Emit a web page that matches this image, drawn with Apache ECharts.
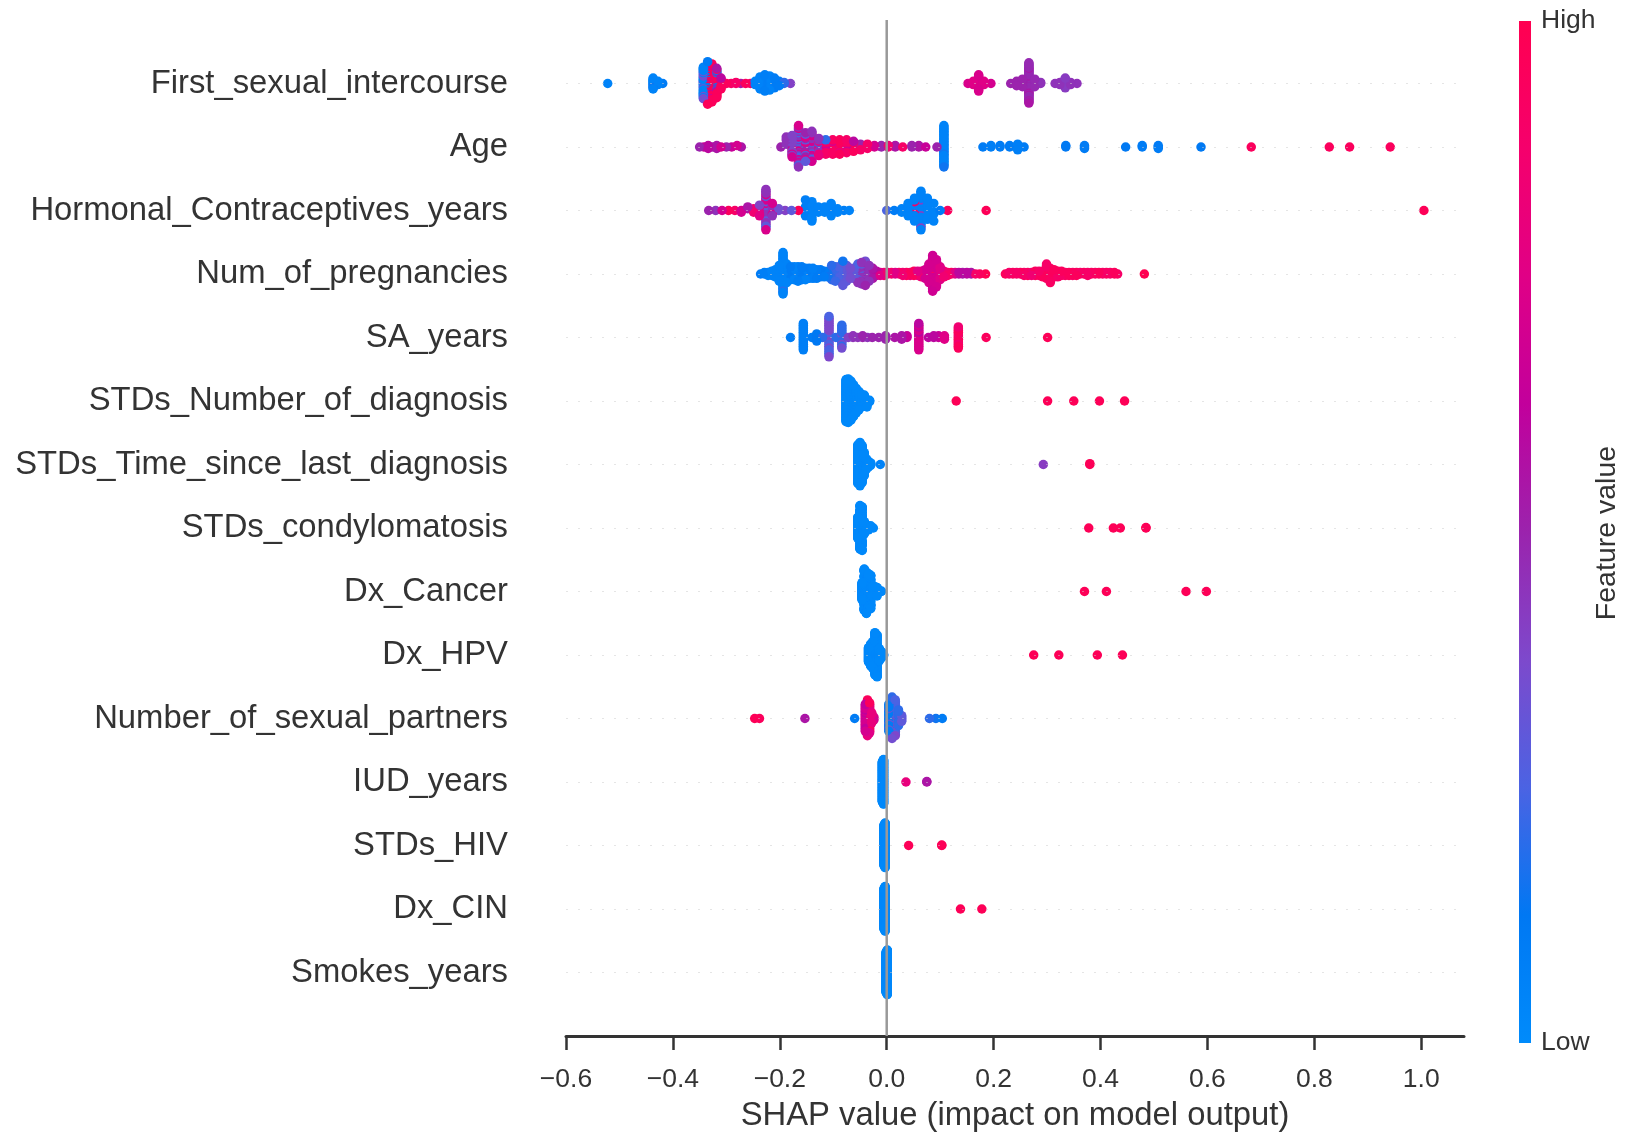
<!DOCTYPE html>
<html>
<head>
<meta charset="utf-8">
<title>SHAP summary plot</title>
<script src="https://cdn.jsdelivr.net/npm/echarts@6/dist/echarts.min.js"></script>
<style>
  html, body { margin: 0; padding: 0; background: #ffffff; }
  #chart { width: 1625px; height: 1137px; }
</style>
</head>
<body>
<div id="chart"></div>
<script>
// Feature names, most important first (top row of the plot).
const featureNames = [
  'First_sexual_intercourse', 'Age', 'Hormonal_Contraceptives_years', 'Num_of_pregnancies',
  'SA_years', 'STDs_Number_of_diagnosis', 'STDs_Time_since_last_diagnosis', 'STDs_condylomatosis',
  'Dx_Cancer', 'Dx_HPV', 'Number_of_sexual_partners', 'IUD_years', 'STDs_HIV', 'Dx_CIN', 'Smokes_years'
];

// SHAP value ticks on the horizontal axis.
const xTicks = [-0.6, -0.4, -0.2, 0.0, 0.2, 0.4, 0.6, 0.8, 1.0];

// Each entry: [SHAP value, number of samples, normalised feature value (0 = low, 1 = high)]
const firstSexualIntercourse = [
  [-0.522, 1, 0.05],
  [-0.437, 9, 0.05], [-0.437, 2, 0.15], [-0.428, 4, 0.05], [-0.419, 1, 0.1],
  [-0.343, 20, 0.05], [-0.343, 10, 0.35],
  [-0.335, 10, 0.1], [-0.335, 24, 0.97], [-0.335, 6, 0.5],
  [-0.327, 30, 0.95], [-0.327, 6, 0.7],
  [-0.318, 16, 0.95], [-0.318, 6, 0.55], [-0.318, 6, 0.1],
  [-0.310, 8, 0.95], [-0.310, 3, 0.6],
  [-0.300, 1, 0.95], [-0.291, 1, 0.9], [-0.282, 2, 0.9], [-0.273, 1, 0.55],
  [-0.264, 1, 0.95], [-0.255, 1, 0.9],
  [-0.246, 4, 0.05], [-0.237, 12, 0.05], [-0.228, 16, 0.08], [-0.219, 14, 0.05], [-0.210, 10, 0.1],
  [-0.201, 5, 0.1], [-0.192, 2, 0.2], [-0.180, 1, 0.4],
  [0.152, 1, 0.72], [0.162, 4, 0.75], [0.172, 16, 0.72], [0.182, 4, 0.75], [0.195, 1, 0.7],
  [0.232, 1, 0.5], [0.243, 5, 0.5], [0.254, 8, 0.5], [0.266, 30, 0.48], [0.266, 8, 0.55],
  [0.277, 8, 0.48], [0.288, 2, 0.45],
  [0.315, 1, 0.45], [0.324, 3, 0.45], [0.334, 10, 0.42], [0.344, 3, 0.45], [0.356, 1, 0.45]
];

const age = [
  [-0.350, 1, 0.5], [-0.342, 1, 0.65], [-0.334, 2, 0.6], [-0.326, 1, 0.5], [-0.318, 2, 0.55],
  [-0.310, 1, 0.7], [-0.300, 1, 0.5], [-0.290, 1, 0.65], [-0.280, 1, 0.7], [-0.272, 1, 0.55],
  [-0.198, 1, 0.5], [-0.188, 3, 0.45], [-0.177, 10, 0.4], [-0.177, 3, 0.7],
  [-0.165, 10, 0.25], [-0.165, 12, 0.45], [-0.165, 8, 0.72],
  [-0.152, 8, 0.5], [-0.152, 8, 0.75], [-0.152, 5, 0.3],
  [-0.140, 10, 0.7], [-0.140, 8, 0.45], [-0.140, 4, 0.25],
  [-0.127, 6, 0.45], [-0.127, 5, 0.8], [-0.127, 2, 0.2],
  [-0.114, 6, 0.9], [-0.114, 4, 0.7], [-0.114, 1, 0.2],
  [-0.101, 8, 0.92], [-0.101, 3, 0.7],
  [-0.088, 8, 0.95], [-0.088, 3, 0.8],
  [-0.075, 7, 0.9], [-0.075, 3, 0.7],
  [-0.062, 6, 0.95], [-0.062, 2, 0.6],
  [-0.049, 3, 0.9], [-0.049, 2, 0.5],
  [-0.036, 3, 0.9], [-0.036, 1, 0.7],
  [-0.023, 2, 0.7], [-0.010, 2, 0.5], [0.003, 2, 0.85], [0.016, 2, 0.55], [0.030, 1, 0.9],
  [0.047, 2, 0.5], [0.060, 2, 0.55], [0.073, 1, 0.65], [0.094, 1, 0.5],
  [0.107, 28, 0.05], [0.107, 2, 0.15],
  [0.180, 1, 0.1], [0.195, 2, 0.08], [0.212, 2, 0.1], [0.230, 2, 0.1], [0.245, 5, 0.08], [0.257, 1, 0.1],
  [0.335, 2, 0.12], [0.370, 3, 0.1],
  [0.447, 1, 0.12], [0.478, 2, 0.1], [0.508, 3, 0.1],
  [0.588, 1, 0.12],
  [0.682, 1, 0.95], [0.828, 1, 0.95], [0.866, 1, 0.95], [0.942, 1, 0.95]
];

const hormonalContraceptivesYears = [
  [-0.333, 1, 0.5], [-0.320, 1, 0.45], [-0.308, 1, 0.7], [-0.296, 1, 0.95], [-0.284, 1, 0.9],
  [-0.272, 2, 0.7], [-0.260, 2, 0.55], [-0.249, 3, 0.85],
  [-0.238, 5, 0.75], [-0.238, 2, 0.4],
  [-0.226, 10, 0.45], [-0.226, 8, 0.3], [-0.226, 6, 0.72],
  [-0.214, 6, 0.45], [-0.214, 2, 0.7],
  [-0.202, 2, 0.35], [-0.190, 1, 0.4], [-0.178, 1, 0.3], [-0.165, 1, 0.97],
  [-0.152, 3, 0.08], [-0.140, 10, 0.05], [-0.128, 4, 0.05], [-0.116, 4, 0.05], [-0.104, 8, 0.05],
  [-0.092, 3, 0.05], [-0.080, 1, 0.08], [-0.070, 1, 0.05],
  [0.000, 1, 0.25], [0.014, 1, 0.1], [0.028, 3, 0.05], [0.040, 8, 0.05],
  [0.052, 12, 0.05], [0.052, 2, 0.9], [0.064, 20, 0.05], [0.064, 3, 0.4],
  [0.076, 10, 0.05], [0.088, 4, 0.05], [0.100, 1, 0.1], [0.114, 1, 0.95],
  [0.186, 1, 0.97], [1.005, 1, 0.97]
];

const numOfPregnancies = [
  [-0.236, 1, 0.1], [-0.229, 2, 0.08], [-0.222, 3, 0.05], [-0.215, 4, 0.05], [-0.208, 6, 0.05],
  [-0.201, 12, 0.05], [-0.194, 28, 0.05], [-0.194, 2, 0.2], [-0.187, 14, 0.05], [-0.180, 10, 0.1],
  [-0.173, 10, 0.05], [-0.166, 11, 0.08], [-0.159, 10, 0.1], [-0.152, 9, 0.05], [-0.145, 8, 0.1],
  [-0.138, 8, 0.08], [-0.131, 7, 0.1], [-0.124, 6, 0.12], [-0.117, 5, 0.1], [-0.110, 5, 0.15],
  [-0.103, 5, 0.2], [-0.096, 7, 0.22], [-0.089, 10, 0.25], [-0.082, 12, 0.3], [-0.082, 6, 0.15],
  [-0.075, 12, 0.3], [-0.068, 8, 0.35], [-0.061, 8, 0.3], [-0.054, 10, 0.45], [-0.054, 4, 0.25],
  [-0.047, 12, 0.45], [-0.047, 4, 0.3], [-0.040, 14, 0.5], [-0.040, 4, 0.35], [-0.033, 12, 0.45],
  [-0.026, 8, 0.55], [-0.019, 4, 0.6], [-0.012, 3, 0.75], [-0.005, 3, 0.85],
  [0.002, 2, 0.85], [0.009, 2, 0.9], [0.016, 2, 0.75], [0.023, 2, 0.9], [0.030, 3, 0.85],
  [0.037, 3, 0.95], [0.044, 3, 0.8], [0.051, 4, 0.95], [0.058, 4, 0.75], [0.065, 5, 0.85],
  [0.072, 7, 0.7], [0.079, 14, 0.7], [0.086, 22, 0.68], [0.086, 4, 0.9], [0.093, 20, 0.7],
  [0.100, 10, 0.75], [0.107, 5, 0.85], [0.114, 3, 0.9], [0.121, 2, 0.95], [0.128, 2, 0.75],
  [0.135, 2, 0.6], [0.142, 2, 0.55], [0.150, 2, 0.6], [0.158, 2, 0.55], [0.166, 1, 0.9],
  [0.174, 1, 0.95], [0.185, 1, 1.0],
  [0.222, 1, 0.95], [0.229, 2, 0.9], [0.236, 2, 0.95], [0.243, 2, 0.9], [0.250, 2, 0.95],
  [0.257, 3, 0.9], [0.264, 3, 0.95], [0.271, 3, 0.85], [0.278, 4, 0.95], [0.285, 4, 0.9],
  [0.292, 5, 0.95], [0.299, 6, 0.9], [0.306, 8, 0.92], [0.313, 6, 0.95], [0.320, 5, 0.9],
  [0.327, 4, 0.95], [0.334, 3, 0.9], [0.341, 3, 0.95], [0.348, 3, 0.9], [0.355, 3, 0.95],
  [0.362, 2, 0.9], [0.369, 2, 0.95], [0.376, 3, 0.9], [0.383, 2, 0.95], [0.390, 2, 0.92],
  [0.397, 2, 0.95], [0.404, 2, 0.9], [0.411, 2, 0.95], [0.418, 2, 0.9], [0.426, 2, 0.95],
  [0.432, 1, 0.9], [0.482, 1, 1.0]
];

const saYears = [
  [-0.180, 1, 0.1],
  [-0.156, 16, 0.08],
  [-0.140, 1, 0.1], [-0.131, 5, 0.12], [-0.120, 1, 0.2],
  [-0.108, 14, 0.38], [-0.108, 10, 0.25],
  [-0.095, 1, 0.2],
  [-0.084, 10, 0.2], [-0.084, 4, 0.35],
  [-0.072, 1, 0.4], [-0.063, 2, 0.45], [-0.054, 1, 0.45], [-0.045, 2, 0.5], [-0.036, 1, 0.45],
  [-0.027, 1, 0.5], [-0.015, 1, 0.5], [-0.002, 3, 0.5],
  [0.015, 1, 0.55], [0.028, 3, 0.55], [0.038, 2, 0.65],
  [0.060, 12, 0.72], [0.060, 4, 0.6],
  [0.078, 1, 0.6], [0.088, 2, 0.6], [0.097, 2, 0.65], [0.108, 3, 0.75],
  [0.134, 10, 0.95], [0.134, 3, 0.85],
  [0.186, 1, 0.95], [0.301, 1, 0.97]
];

const stdsNumberOfDiagnosis = [
  [-0.076, 58, 0.02], [-0.072, 60, 0.02], [-0.067, 54, 0.02], [-0.062, 44, 0.02], [-0.057, 34, 0.02],
  [-0.052, 26, 0.02], [-0.047, 18, 0.02], [-0.042, 11, 0.02], [-0.037, 6, 0.02], [-0.032, 3, 0.02],
  [0.130, 1, 0.97], [0.301, 1, 0.97], [0.350, 1, 0.97], [0.398, 1, 0.97], [0.445, 1, 0.97]
];

const stdsTimeSinceLastDiagnosis = [
  [-0.054, 50, 0.02], [-0.050, 56, 0.02], [-0.046, 48, 0.02], [-0.042, 30, 0.02], [-0.038, 14, 0.02],
  [-0.034, 8, 0.02], [-0.030, 4, 0.02], [-0.012, 1, 0.05],
  [0.293, 1, 0.42], [0.380, 2, 0.97]
];

const stdsCondylomatosis = [
  [-0.054, 48, 0.02], [-0.050, 55, 0.02], [-0.046, 46, 0.02], [-0.042, 28, 0.02], [-0.038, 14, 0.02],
  [-0.034, 7, 0.02], [-0.030, 3, 0.02], [-0.025, 1, 0.02],
  [0.378, 1, 0.97], [0.424, 1, 0.97], [0.437, 1, 0.97], [0.485, 2, 0.97]
];

const dxCancer = [
  [-0.046, 40, 0.02], [-0.042, 50, 0.02], [-0.038, 52, 0.02], [-0.034, 46, 0.02], [-0.030, 34, 0.02],
  [-0.026, 22, 0.02], [-0.022, 14, 0.02], [-0.018, 8, 0.02], [-0.014, 4, 0.02], [-0.010, 2, 0.02],
  [0.370, 1, 0.97], [0.411, 1, 0.97], [0.560, 1, 0.97], [0.598, 1, 0.97]
];

const dxHpv = [
  [-0.034, 30, 0.02], [-0.030, 45, 0.02], [-0.026, 55, 0.02], [-0.022, 50, 0.02], [-0.018, 40, 0.02],
  [-0.014, 26, 0.02], [-0.010, 14, 0.02], [-0.006, 5, 0.02],
  [0.275, 1, 0.97], [0.322, 1, 0.97], [0.394, 1, 0.97], [0.441, 1, 0.97]
];

const numberOfSexualPartners = [
  [-0.247, 1, 0.97], [-0.238, 1, 0.95],
  [-0.153, 1, 0.55],
  [-0.060, 1, 0.1],
  [-0.040, 14, 0.7], [-0.040, 6, 0.62], [-0.036, 16, 0.8], [-0.036, 10, 0.95],
  [-0.032, 12, 0.95], [-0.032, 10, 0.75], [-0.028, 8, 0.8], [-0.024, 3, 0.7],
  [0.004, 16, 0.1], [0.004, 4, 0.3], [0.010, 20, 0.2], [0.010, 10, 0.35],
  [0.016, 18, 0.25], [0.016, 8, 0.38], [0.022, 12, 0.2], [0.028, 5, 0.3],
  [0.080, 1, 0.2], [0.092, 1, 0.15], [0.104, 1, 0.1]
];

const iudYears = [
  [-0.008, 100, 0.02], [-0.006, 110, 0.02],
  [0.036, 1, 0.8], [0.075, 2, 0.55]
];

const stdsHiv = [
  [-0.005, 100, 0.02], [-0.003, 110, 0.02],
  [0.041, 1, 0.97], [0.103, 2, 0.97]
];

const dxCin = [
  [-0.005, 100, 0.02], [-0.003, 110, 0.02],
  [0.138, 1, 0.97], [0.178, 1, 0.97]
];

const smokesYears = [
  [-0.001, 100, 0.02], [0.001, 110, 0.02]
];

// Rows in the same order as featureNames.
const featureRows = [
  firstSexualIntercourse, age, hormonalContraceptivesYears, numOfPregnancies, saYears,
  stdsNumberOfDiagnosis, stdsTimeSinceLastDiagnosis, stdsCondylomatosis, dxCancer, dxHpv,
  numberOfSexualPartners, iudYears, stdsHiv, dxCin, smokesYears
];

// Blue -> purple -> red feature value colour scale (low -> high).
const colorScale = ['#008bfb', '#0078f3', '#4b63e3', '#7d49cc', '#9b23ad', '#c2009c', '#e00086', '#f5006c', '#ff0051'];

// Beeswarm layout: points are binned along the SHAP axis and stacked
// alternately above and below the row centre within each bin.
function beeswarm(entries, rowPos) {
  const pts = [];
  entries.forEach(([v, n, c]) => { for (let k = 0; k < n; k++) pts.push([v, c]); });
  // fixed interleaving so that colours within a stack are mixed
  const order = pts.map((p, i) => [((i + 1) * 0.6180339887) % 1, i])
                   .sort((a, b) => a[0] - b[0]).map(a => a[1]);
  const vals = pts.map(p => p[0]);
  const lo = Math.min(...vals), hi = Math.max(...vals);
  const nbins = 100;
  const quant = vals.map(v => Math.round(nbins * (v - lo) / (hi - lo + 1e-8)));
  const inds = order.slice().sort((a, b) => quant[a] - quant[b]);
  const ys = new Array(pts.length).fill(0);
  let layer = 0, lastBin = -1;
  for (const i of inds) {
    if (quant[i] !== lastBin) layer = 0;
    ys[i] = Math.ceil(layer / 2) * ((layer % 2) * 2 - 1);
    layer++;
    lastBin = quant[i];
  }
  const rowHeight = 0.4;
  const m = Math.max(...ys.map(y => y + 1));
  const scale = 0.9 * rowHeight / m;
  return order.map(i => [pts[i][0], rowPos + ys[i] * scale, pts[i][1]]);
}

const nRows = featureNames.length;
const scatterData = [];
featureRows.forEach((entries, r) => {
  beeswarm(entries, nRows - 1 - r).forEach(p => scatterData.push(p));
});

const rowPositions = featureNames.map((_, i) => i);
const fontFamily = '"Liberation Sans", Arial, Helvetica, sans-serif';
const textColor = '#333333';

const chart = echarts.init(document.getElementById('chart'), null, { renderer: 'canvas' });

const gradientStops = colorScale.slice().reverse().map((c, i, arr) => ({ offset: i / (arr.length - 1), color: c }));

chart.setOption({
  animation: false,
  backgroundColor: '#ffffff',
  textStyle: { fontFamily: fontFamily },
  grid: { left: 566, right: 161, top: 20, bottom: 92 },
  xAxis: {
    type: 'value',
    min: -0.6,
    max: 1.08,
    splitLine: { show: false },
    axisLine: { show: true, onZero: false, lineStyle: { color: textColor, width: 3 } },
    axisTick: { show: true, length: 14, customValues: xTicks, lineStyle: { color: textColor, width: 2.5 } },
    axisLabel: {
      customValues: xTicks,
      margin: 30,
      fontSize: 26.5,
      color: textColor,
      fontFamily: fontFamily,
      formatter: v => (v < -1e-9 ? '\u2212' : '') + Math.abs(v).toFixed(1)
    },
    name: 'SHAP value (impact on model output)',
    nameLocation: 'middle',
    nameGap: 63,
    nameTextStyle: { fontSize: 32.8, color: textColor, fontFamily: fontFamily }
  },
  yAxis: {
    type: 'value',
    min: -1,
    max: nRows,
    splitLine: { show: false },
    axisLine: { show: false },
    axisTick: { show: false },
    axisLabel: {
      customValues: rowPositions,
      margin: 58,
      fontSize: 32.8,
      color: textColor,
      fontFamily: fontFamily,
      formatter: v => featureNames[nRows - 1 - Math.round(v)]
    }
  },
  visualMap: [{
    type: 'continuous',
    show: false,
    seriesIndex: 1,
    dimension: 2,
    min: 0,
    max: 1,
    inRange: { color: colorScale }
  }],
  series: [
    {
      // faint dotted guide line through each feature row
      type: 'scatter',
      data: [],
      silent: true,
      z: 1,
      markLine: {
        silent: true,
        symbol: ['none', 'none'],
        label: { show: false },
        lineStyle: { color: '#cccccc', width: 1, type: [2, 10], opacity: 0.5 },
        data: rowPositions.map(p => ({ yAxis: p }))
      }
    },
    {
      type: 'scatter',
      data: scatterData,
      symbol: 'circle',
      symbolSize: 9.5,
      itemStyle: { opacity: 1, borderWidth: 0 },
      silent: true,
      z: 2
    },
    {
      // zero reference line
      type: 'line',
      data: [[0, -1], [0, nRows]],
      symbol: 'none',
      silent: true,
      lineStyle: { color: '#999999', width: 2.5 },
      z: 3
    }
  ],
  graphic: [
    {
      type: 'rect',
      shape: { x: 1519, y: 21, width: 12, height: 1022 },
      style: { fill: new echarts.graphic.LinearGradient(0, 0, 0, 1, gradientStops) },
      silent: true
    },
    {
      type: 'text', x: 1541, y: 21,
      style: { text: 'High', fontSize: 26.5, fill: textColor, fontFamily: fontFamily, align: 'left', verticalAlign: 'middle' },
      silent: true
    },
    {
      type: 'text', x: 1541, y: 1043,
      style: { text: 'Low', fontSize: 26.5, fill: textColor, fontFamily: fontFamily, align: 'left', verticalAlign: 'middle' },
      silent: true
    },
    {
      type: 'text', x: 1607, y: 533, rotation: Math.PI / 2,
      style: { text: 'Feature value', fontSize: 28.5, fill: textColor, fontFamily: fontFamily, align: 'center', verticalAlign: 'middle' },
      silent: true
    }
  ]
});
</script>
</body>
</html>
